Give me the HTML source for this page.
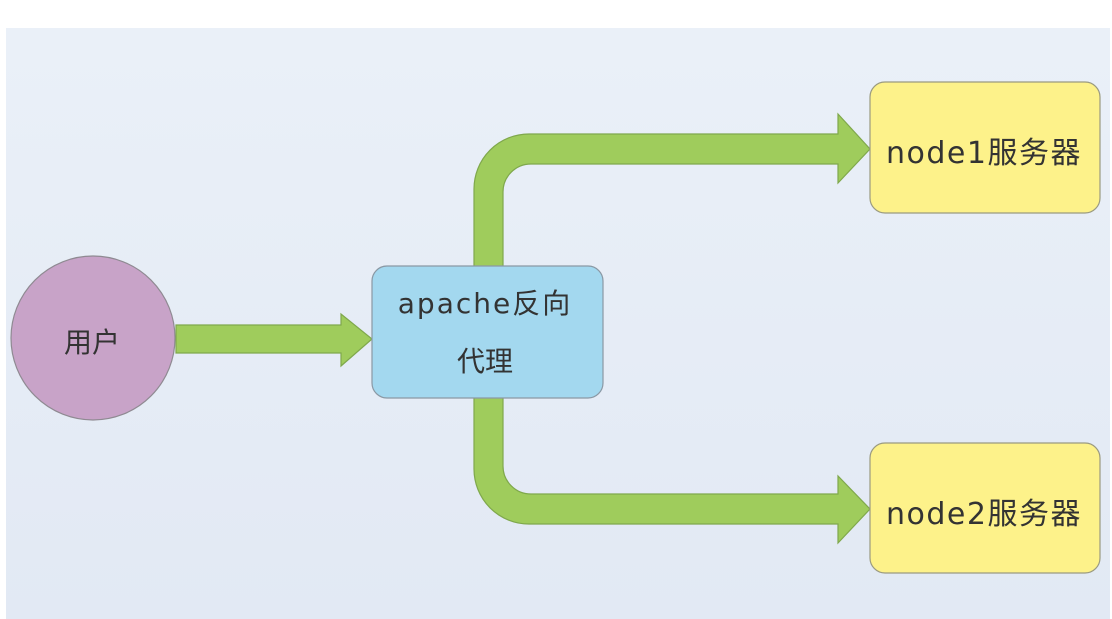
<!DOCTYPE html>
<html><head><meta charset="utf-8"><style>
html,body{margin:0;padding:0;background:#fff;}
body{width:1112px;height:619px;overflow:hidden;position:relative;}
</style></head><body>
<svg width="1112" height="619" xmlns="http://www.w3.org/2000/svg" style="position:absolute;left:0;top:0">
<defs>
<linearGradient id="bg" x1="0" y1="0" x2="0" y2="1">
<stop offset="0" stop-color="#eaf0f8"/><stop offset="1" stop-color="#e2e9f4"/>
</linearGradient>
</defs>
<rect x="6" y="28" width="1104" height="591" fill="url(#bg)"/>
<g fill="#9fcc5c" stroke="#7fa84c" stroke-width="1.2">
<path d="M176,325 L341,325 L341,314 L372,339 L341,366 L341,353 L176,353 Z"/>
<path d="M474,268 L474,189 A55,55 0 0 1 529,134 L838,134 L838,114 L870,149 L838,183 L838,164 L531,164 A28,28 0 0 0 503,192 L503,268 Z"/>
<path d="M474,396 L474,469 A55,55 0 0 0 529,524 L838,524 L838,543 L870,509 L838,476 L838,494 L531,494 A28,28 0 0 1 503,466 L503,396 Z"/>
</g>
<circle cx="93" cy="338" r="82" fill="#c8a3c8" stroke="#8f8a92" stroke-width="1.2"/>
<rect x="372" y="266" width="231" height="132" rx="15" fill="#a3d8ef" stroke="#8a98a4" stroke-width="1.2"/>
<rect x="870" y="82" width="230" height="131" rx="15" fill="#fdf28a" stroke="#9a9a80" stroke-width="1.2"/>
<rect x="870" y="443" width="230" height="130" rx="15" fill="#fdf28a" stroke="#9a9a80" stroke-width="1.2"/>
<g font-family="'DejaVu Sans','Noto Sans CJK SC',sans-serif" fill="#333" text-anchor="middle">
<text x="92" y="352" font-size="28">用户</text>
<text x="485" y="313" font-size="28" letter-spacing="2">apache反向</text>
<text x="485" y="371" font-size="28">代理</text>
<text x="984" y="163" font-size="30" letter-spacing="1.5">node1服务器</text>
<text x="984" y="524" font-size="30" letter-spacing="1.5">node2服务器</text>
</g>
</svg>
</body></html>
